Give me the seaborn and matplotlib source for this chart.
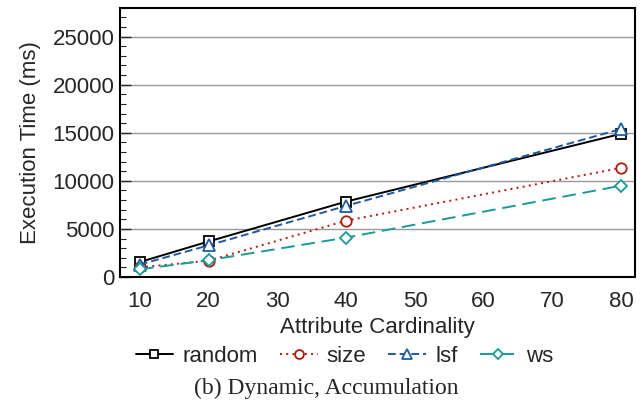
import matplotlib
matplotlib.use("Agg")
import matplotlib.pyplot as plt
import seaborn as sns
import pandas as pd
from matplotlib.ticker import MultipleLocator

cardinality = [10, 20, 40, 80]
random_ms = [1560, 3700, 7850, 14900]
size_ms = [1000, 1700, 5860, 11350]
lsf_ms = [1300, 3300, 7400, 15400]
ws_ms = [800, 1750, 4100, 9500]

series_names = ["random", "size", "lsf", "ws"]
series_vals = [random_ms, size_ms, lsf_ms, ws_ms]

rows = []
for name, vals in zip(series_names, series_vals):
    for c, v in zip(cardinality, vals):
        rows.append({"card": c, "time": v, "method": name})
df = pd.DataFrame(rows)

sns.set_theme(style="ticks")
plt.rcParams["font.family"] = ["Liberation Sans", "DejaVu Sans"]

colors = {"random": "#000000", "size": "#b01a0a", "lsf": "#1f5a9e", "ws": "#1a9a98"}
markers = {"random": "s", "size": "o", "lsf": "^", "ws": "D"}
dashes = {"random": "", "size": (1, 2.2), "lsf": (4, 2), "ws": (7, 3.5)}
msize = {"random": 7, "size": 7.5, "lsf": 8, "ws": 6}

fig = plt.figure(figsize=(6.43, 4.11), dpi=100)
ax = fig.add_axes([0.1866, 0.326, 0.801, 0.655])

for name in series_names:
    sub = df[df.method == name]
    sns.lineplot(data=sub, x="card", y="time", ax=ax, color=colors[name],
                 marker=markers[name], markersize=msize[name],
                 markerfacecolor="white", markeredgecolor=colors[name],
                 markeredgewidth=1.3, linewidth=1.4, label=name,
                 dashes=False, zorder=3)
    ln = ax.get_lines()[-1]
    if dashes[name]:
        ln.set_dashes(dashes[name])

ax.set_xlim(7.1, 82)
ax.set_ylim(0, 28000)
ax.set_xticks([10, 20, 30, 40, 50, 60, 70, 80])
ax.set_yticks([0, 5000, 10000, 15000, 20000, 25000])
ax.yaxis.set_minor_locator(MultipleLocator(1000))
ax.yaxis.grid(True, which="major", color="#999999", linewidth=1.0)
ax.set_axisbelow(True)
ax.tick_params(axis="y", which="major", direction="in", length=8, width=1, labelsize=16, pad=4)
ax.tick_params(axis="y", which="minor", direction="in", length=4, width=0.8)
ax.tick_params(axis="x", which="major", direction="in", length=0, labelsize=16, pad=10)
for s in ax.spines.values():
    s.set_linewidth(1.5)
    s.set_color("black")

ax.set_xlabel("Attribute Cardinality", fontsize=16, labelpad=4)
ax.set_ylabel("Execution Time (ms)", fontsize=16, labelpad=8)

ax.legend(loc="upper center", bbox_to_anchor=(0.436, -0.255), ncol=4, frameon=False,
          fontsize=16, handlelength=1.7, columnspacing=1.0, handletextpad=0.4,
          markerscale=0.85, borderaxespad=0, borderpad=0)

fig.text(0.507, 0.056, "(b) Dynamic, Accumulation", ha="center", va="center",
         fontsize=17, family=["Liberation Serif", "DejaVu Serif"])

fig.savefig("out.png", dpi=100)
